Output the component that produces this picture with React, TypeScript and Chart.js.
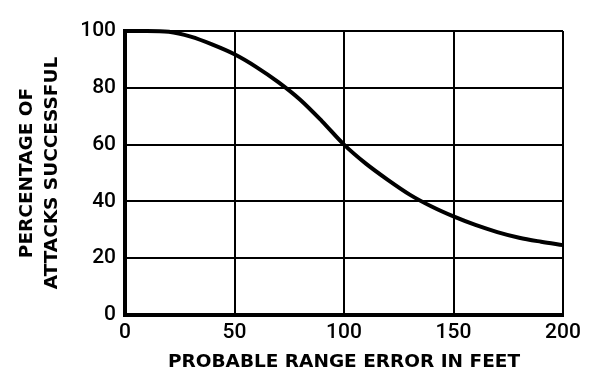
import React, { useEffect, useRef } from "react";
import { Chart, registerables } from "chart.js";

Chart.register(...registerables);

const errorFeet = [0, 10, 20, 30, 40, 50, 60, 70, 80, 90, 100, 110, 120, 130, 140, 150, 160, 170, 180, 190, 200];
const successPct = [100, 100, 99.7, 98, 95.2, 91.8, 87.3, 82, 75.8, 68.2, 60, 53.3, 47.6, 42.4, 38.2, 34.7, 31.7, 29.2, 27.2, 25.8, 24.6];
const xTicks = [0, 50, 100, 150, 200];
const yTicks = [0, 20, 40, 60, 80, 100];
const xTitle = "PROBABLE RANGE ERROR IN FEET";
const yTitle = ["PERCENTAGE OF", "ATTACKS SUCCESSFUL"];

const TITLE_FONT = "'DejaVu Sans', sans-serif";
const TICK_FONT = "Roboto, 'DejaVu Sans', sans-serif";

export default function App() {
  const ref = useRef<HTMLCanvasElement | null>(null);

  useEffect(() => {
    if (!ref.current) return;
    const chart = new Chart(ref.current, {
      type: "line",
      data: {
        datasets: [
          {
            data: errorFeet.map((x, i) => ({ x, y: successPct[i] })),
            borderColor: "#000",
            borderWidth: 4,
            pointRadius: 0,
            fill: false,
            cubicInterpolationMode: "monotone",
            clip: false as any,
          },
        ],
      },
      options: {
        animation: false,
        responsive: false,
        maintainAspectRatio: false,
        layout: { padding: { top: 31, right: 37, left: 0, bottom: 0 } },
        plugins: {
          legend: { display: false },
          tooltip: { enabled: false },
        },
        scales: {
          x: {
            type: "linear",
            min: 0,
            max: 200,
            afterBuildTicks: (s: any) => {
              s.ticks = xTicks.map((v) => ({ value: v }));
            },
            afterFit: (s: any) => {
              s.height = 69;
            },
            grid: { color: "#000", lineWidth: 2, drawTicks: false },
            border: { color: "#000", width: 4 },
            ticks: {
              color: "#000",
              font: { family: TICK_FONT, size: 21, weight: "500" },
              padding: 5,
              maxRotation: 0,
              autoSkip: false,
            },
            title: {
              display: true,
              text: xTitle,
              color: "#000",
              font: { family: TITLE_FONT, size: 18.5, weight: "bold", lineHeight: 1.35 },
              padding: { top: 0, bottom: 9 },
            },
          },
          y: {
            type: "linear",
            min: 0,
            max: 100,
            afterBuildTicks: (s: any) => {
              s.ticks = yTicks.map((v) => ({ value: v }));
            },
            afterFit: (s: any) => {
              s.width = 125;
            },
            grid: { color: "#000", lineWidth: 2, drawTicks: false },
            border: { color: "#000", width: 4 },
            ticks: {
              color: "#000",
              font: { family: TICK_FONT, size: 21, weight: "500" },
              padding: 9,
              autoSkip: false,
            },
            title: {
              display: true,
              text: yTitle,
              color: "#000",
              font: { family: TITLE_FONT, size: 18.5, weight: "bold", lineHeight: 1.35 },
              padding: { top: 15, bottom: 0 },
            },
          },
        },
      },
    });
    return () => chart.destroy();
  }, []);

  return (
    <div style={{ position: "absolute", left: 0, top: 0, width: 600, height: 384, background: "#fff" }}>
      <canvas ref={ref} width={600} height={384} />
    </div>
  );
}
